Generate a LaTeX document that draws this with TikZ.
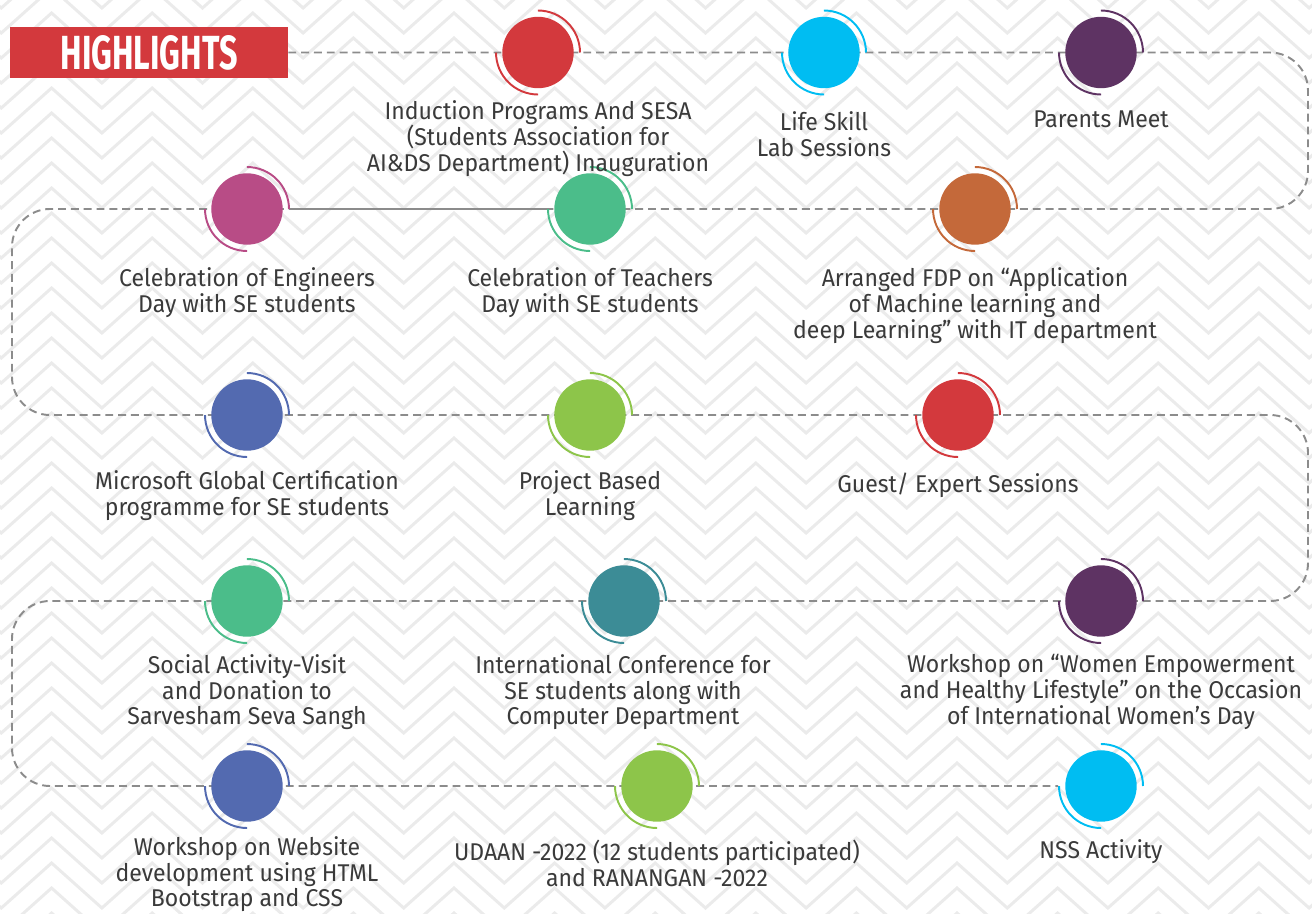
\documentclass[tikz,border=0pt]{standalone}
\usepackage{fontspec}
\setmainfont{Fira Sans}[FakeStretch=0.95]
\usetikzlibrary{backgrounds}
\definecolor{cred}{HTML}{D3393D}
\definecolor{ccyan}{HTML}{00BDF2}
\definecolor{cpurple}{HTML}{5E3363}
\definecolor{cpink}{HTML}{B84C86}
\definecolor{cgreen}{HTML}{4BBD8A}
\definecolor{corange}{HTML}{C4693A}
\definecolor{cblue}{HTML}{536AB0}
\definecolor{clime}{HTML}{8DC54A}
\definecolor{cteal}{HTML}{3C8C96}
\definecolor{zigzag}{HTML}{EBEBEB}
\definecolor{routegray}{HTML}{8C8C8C}
\definecolor{ink}{HTML}{3A3A3A}
\begin{document}
\begin{tikzpicture}
        [
            x = 0.02cm, y = -0.02cm,
            chevron/.style = {draw=zigzag, line width=1.7pt},
            route/.style = {draw=routegray, line width=1.1pt, dash pattern=on 4.5pt off 2.8pt},
            dot/.style = {circle, minimum size=1.68cm, inner sep=0pt, draw=#1, line width=1.1pt,
                dash pattern=on 1.3195cm off 1.3195cm,
                path picture={\fill[#1] (path picture bounding box.center) circle (0.714cm);}},
            note/.style = {align=center, anchor=north, inner sep=0pt, text=ink,
                font=\fontsize{13.8pt}{14.7pt}\selectfont},
            banner/.style = {fill=cred, text=white, minimum width=5.56cm, minimum height=1.02cm, inner sep=0pt},
        ]
        \useasboundingbox (0,0) rectangle (1312,913);
        \coordinate (east edge) at (1308,0);
        \coordinate (west edge) at (12,0);
        \node[banner] (highlights) at (149,52.5) {\resizebox{3.54cm}{0.68cm}{\bfseries HIGHLIGHTS}};

        \node[dot=cred] (induction) at (538,52.5) {};
        \node[dot=ccyan] (lifeskill) at (824,52.5) {};
        \node[dot=cpurple] (parents) at (1101,52.5) {};
        \node[dot=cpink] (engineers) at (247,209) {};
        \node[dot=cgreen] (teachers) at (590,209) {};
        \node[dot=corange] (fdp) at (975,209) {};
        \node[dot=cblue] (microsoft) at (247,415) {};
        \node[dot=clime] (project) at (590,415) {};
        \node[dot=cred] (guest) at (958,415) {};
        \node[dot=cgreen] (social) at (247,601) {};
        \node[dot=cteal] (conference) at (624,601) {};
        \node[dot=cpurple] (women) at (1101,601) {};
        \node[dot=cblue] (website) at (247,786) {};
        \node[dot=clime] (udaan) at (657,786) {};
        \node[dot=ccyan] (nss) at (1101,786) {};

        \node[note] (induction text) at (538,100.5) {Induction Programs And SESA\\(Students Association for\\AI\&DS Department) Inauguration};
        \node[note] (lifeskill text) at (824,111) {Life Skill\\Lab Sessions};
        \node[note] (parents text) at (1101,110.5) {Parents Meet};
        \node[note] (engineers text) at (247,267.5) {Celebration of Engineers\\Day with SE students};
        \node[note] (teachers text) at (590,267.5) {Celebration of Teachers\\Day with SE students};
        \node[note] (fdp text) at (975,267.5) {Arranged FDP on “Application\\of Machine learning and\\deep Learning” with IT department};
        \node[note] (microsoft text) at (247,470.5) {Microsoft Global Certification\\programme for SE students};
        \node[note] (project text) at (590,470.5) {Project Based\\Learning};
        \node[note] (guest text) at (958,473) {Guest/ Expert Sessions};
        \node[note] (social text) at (247,654) {Social Activity-Visit\\and Donation to\\Sarvesham Seva Sangh};
        \node[note] (conference text) at (623,654) {International Conference for\\SE students along with\\Computer Department};
        \node[note] (women text) at (1101,654) {Workshop on “Women Empowerment\\and Healthy Lifestyle” on the Occasion\\of International Women's Day};
        \node[note] (website text) at (247,836) {Workshop on Website\\development using HTML\\Bootstrap and CSS};
        \node[note] (udaan text) at (657,840) {UDAAN -2022 (12 students participated)\\and RANANGAN -2022};
        \node[note] (nss text) at (1101,839) {NSS Activity};

        \begin{scope}[on background layer]
            \begin{scope}
                \clip (0,0) rectangle (1312,913);
                \foreach \row in {-87,-62,...,938} {
                    \draw[chevron] (-49,\row) \foreach \i in {1,...,14} { -- ++(50.3,45) -- ++(50.3,-45) };
                }
            \end{scope}
            \draw[route, rounded corners=0.76cm] (highlights.east) -- (parents -| east edge)
                -- (fdp -| east edge) -- (engineers -| west edge)
                -- (microsoft -| west edge) -- (guest -| east edge)
                -- (women -| east edge) -- (social -| west edge)
                -- (website -| west edge) -- (nss);
            \draw[route, solid] (engineers) -- (teachers);
        \end{scope}
\end{tikzpicture}
\end{document}
